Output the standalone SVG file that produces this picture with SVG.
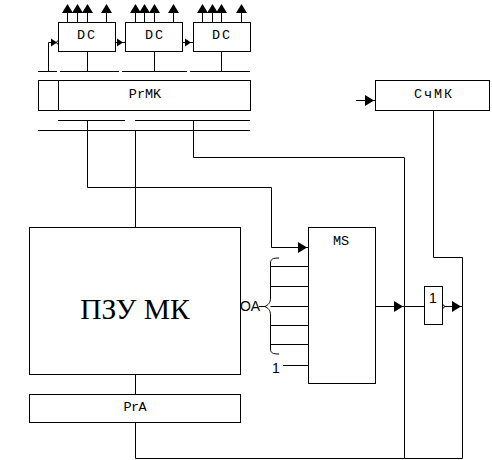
<svg xmlns="http://www.w3.org/2000/svg" width="492" height="460" viewBox="0 0 492 460">
<style>
rect{fill:#fff;stroke:#000;stroke-width:1}
.c path,.c line{fill:none;stroke:#000;stroke-width:1}
.c circle{fill:#fff;stroke:#000;stroke-width:1}
.c polygon{fill:#000;stroke:none}
text{fill:#000;text-anchor:middle}
.s{font-family:"Liberation Mono",monospace;font-size:13.500px}
.a{font-family:"Liberation Sans",Arial,sans-serif;font-size:14px}
</style>
<defs>
<polygon id="up" points="0,-9 5.500,0 -5.500,0"/>
<polygon id="rt" points="0,-5.500 9,0 0,5.500"/>
<polygon id="rs" points="0,-4 6,0 0,4"/>
</defs>
<rect width="492" height="460" style="fill:#fff;stroke:none"/>
<g id="connectors" class="c">
<path d="M67.500 22V10M77.500 22V10M87.500 22V10M106.500 22V10M135.500 22V10M144.500 22V10M154.500 22V10M173.500 22V10M202.500 22V10M212.500 22V10M221.500 22V10M241.500 22V10"/>
<use href="#up" x="67.500" y="13"/><use href="#up" x="77.500" y="13"/><use href="#up" x="87.500" y="13"/><use href="#up" x="106.500" y="13"/>
<use href="#up" x="135.500" y="13"/><use href="#up" x="144.500" y="13"/><use href="#up" x="154.500" y="13"/><use href="#up" x="173.500" y="13"/>
<use href="#up" x="202.500" y="13"/><use href="#up" x="212.500" y="13"/><use href="#up" x="221.500" y="13"/><use href="#up" x="241.500" y="13"/>
<path d="M38 71.500H57M60 71.500H119M122 71.500H187M190 71.500H250"/>
<path d="M48.500 71.500V42.500H57M87.500 52V71.500M154.500 52V71.500M221.500 52V71.500"/>
<path d="M116 42.500H126M183 42.500H193"/>
<use href="#rs" x="51" y="42.500"/><use href="#rs" x="117" y="42.500"/><use href="#rs" x="185" y="42.500"/>
<circle cx="58.500" cy="42.500" r="1.800"/>
<path d="M58 120.500H125M135 120.500H250M38 130.500H250"/>
<path d="M87.500 120V187.500H271.500V247.500H308"/>
<use href="#rt" x="298" y="247.500"/>
<path d="M135.500 130V227"/>
<path d="M193.500 120V157.500H404.500V458"/>
<path d="M135.500 374V394M135.500 422V458.500H462.500V257.500H433.500V110"/>
<path d="M356 100.500H375"/>
<use href="#rt" x="365" y="100.500"/>
<path d="M270.500 266.500H308M270.500 286.500H308M270.500 306.500H308M270.500 325.500H308M270.500 344.500H308M283 365.500H308"/>
<path d="M279 258C273 258 270.500 259 270.500 263V298C270.500 303 268 305 265 306.500C268 308 270.500 310 270.500 315V349C270.500 353 273 354 279 354"/>
<path d="M259 306.500H265"/>
<path d="M375 306.500H424M443 306.500H462"/>
<use href="#rt" x="394" y="306.500"/><use href="#rt" x="452" y="306.500"/>
<circle cx="442.500" cy="306.500" r="1.800"/>
</g>
<g id="dc1"><rect x="58.500" y="22.500" width="57" height="29"/><text class="s" x="86" y="39" textLength="18">DC</text></g>
<g id="dc2"><rect x="125.500" y="22.500" width="57" height="29"/><text class="s" x="154" y="39" textLength="18">DC</text></g>
<g id="dc3"><rect x="193.500" y="22.500" width="57" height="29"/><text class="s" x="221" y="39" textLength="18">DC</text></g>
<g id="prmk"><rect x="38.500" y="80.500" width="212" height="30"/><line x1="58.500" y1="80.500" x2="58.500" y2="110.500" stroke="#000"/><text class="s" x="145" y="98">PrMK</text></g>
<g id="schmk"><rect x="375.500" y="80.500" width="114" height="30"/><text class="s" x="433" y="98" textLength="38">СчМК</text></g>
<g id="rom"><rect x="29.500" y="227.500" width="211" height="147"/><text x="135" y="319" style="font-family:'Liberation Serif',serif;font-size:29.500px">ПЗУ МК</text></g>
<g id="pra"><rect x="29.500" y="394.500" width="211" height="28"/><text class="s" x="135" y="411" textLength="23">PrA</text></g>
<g id="ms"><rect x="308.500" y="227.500" width="67" height="156"/><text class="s" x="341" y="245">MS</text></g>
<g id="gate"><rect x="424.500" y="286.500" width="18" height="38"/><text class="a" x="433" y="303">1</text></g>
<g id="oa"><text class="a" x="250" y="311">OA</text></g>
<g id="one"><text class="a" x="276" y="373">1</text></g>
</svg>
